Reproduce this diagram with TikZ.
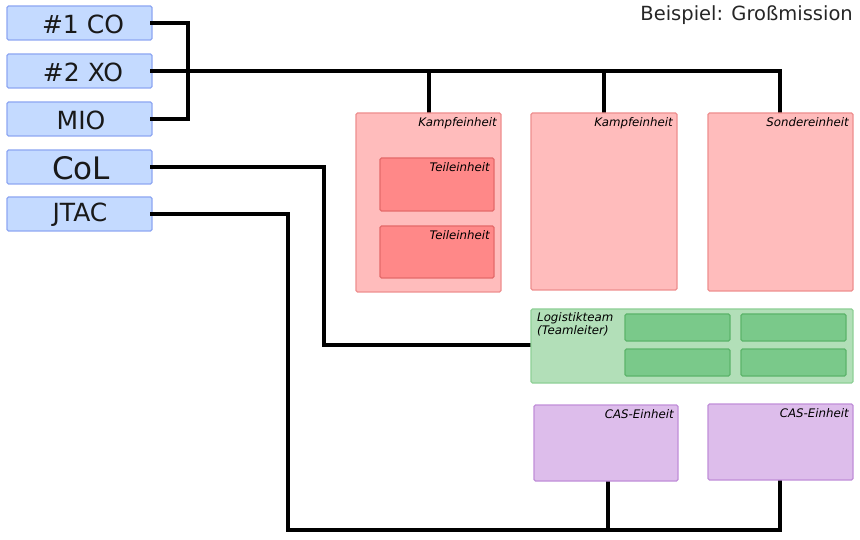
\documentclass[tikz,border=0pt]{standalone}
\usepackage{fontspec}
\setmainfont{DejaVu Sans}
\definecolor{bluefill}{HTML}{C4DAFF}
\definecolor{blueline}{HTML}{8DA6F2}
\definecolor{redfill}{HTML}{FFBCBC}
\definecolor{redline}{HTML}{EE8E8E}
\definecolor{red2fill}{HTML}{FF8888}
\definecolor{red2line}{HTML}{E46A6A}
\definecolor{grnfill}{HTML}{B2DFB8}
\definecolor{grnline}{HTML}{8ED096}
\definecolor{grn2fill}{HTML}{7AC98A}
\definecolor{grn2line}{HTML}{5CB46A}
\definecolor{purfill}{HTML}{DDBDEB}
\definecolor{purline}{HTML}{C08ED8}
\tikzset{
  rolebox/.style={draw=blueline, fill=bluefill, line width=1.3pt, rounded corners=1.5pt},
  unitbox/.style={draw=redline, fill=redfill, line width=1.3pt, rounded corners=1.5pt},
  subbox/.style={draw=red2line, fill=red2fill, line width=1.3pt, rounded corners=1.5pt},
  logbox/.style={draw=grnline, fill=grnfill, line width=1.3pt, rounded corners=1.5pt},
  log2box/.style={draw=grn2line, fill=grn2fill, line width=1.3pt, rounded corners=1.5pt},
  casbox/.style={draw=purline, fill=purfill, line width=1.3pt, rounded corners=1.5pt},
  wire/.style={line width=4.2pt, line cap=rect},
  lbl/.style={font=\fontsize{11.8}{13.5}\selectfont\itshape, anchor=north east, inner sep=0pt},
  big/.style={font=\fontsize{25}{28}\selectfont, inner sep=0pt, text=black!90},
}
\begin{document}
\begin{tikzpicture}[x=1pt,y=-1pt]
\useasboundingbox (0,0) rectangle (860,540);
% wires
\coordinate (j1) at (188,23);
\coordinate (j2) at (188,119);
\coordinate (x1) at (429,71);
\coordinate (x2) at (604,71);
\coordinate (x3) at (780,71);
\coordinate (c1) at (324,167);
\coordinate (c2) at (324,345);
\coordinate (t1) at (288,214);
\coordinate (t2) at (288,530);
\coordinate (t3) at (608,530);
\coordinate (t4) at (780,530);

% boxes
\path[rolebox] (7,6) rectangle (152,40);
\path[rolebox] (7,54) rectangle (152,88);
\path[rolebox] (7,102) rectangle (152,136);
\path[rolebox] (7,150) rectangle (152,184);
\path[rolebox] (7,197) rectangle (152,231);
\node[big] (co) at (83,24) {\#1 CO};
\node[big] (xo) at (83,72) {\#2 XO};
\node[big] (mio) at (81,120) {MIO};
\node[big, font=\fontsize{31}{34}\selectfont] (col) at (81,168) {CoL};
\node[big] (jtac) at (80,215) {JTAC};
\coordinate (coR) at (152,23);
\coordinate (xoR) at (152,71);
\coordinate (mioR) at (152,119);
\coordinate (colR) at (152,167);
\coordinate (jtacR) at (152,214);

\draw[wire] (coR) -- (j1) -- (j2) -- (mioR);
\draw[wire] (xoR) -- (x3) -- (780,113);
\draw[wire] (x1) -- (429,113);
\draw[wire] (x2) -- (604,113);
\draw[wire] (colR) -- (c1) -- (c2) -- (531,345);
\draw[wire] (jtacR) -- (t1) -- (t2) -- (t4) -- (780,480);
\draw[wire] (t3) -- (608,481);

\path[unitbox] (356,113) rectangle (501,292);
\node[lbl] (k1) at (497,117) {Kampfeinheit};
\path[subbox] (380,158) rectangle (494,211);
\node[lbl] (s1) at (490,162) {Teileinheit};
\path[subbox] (380,226) rectangle (494,278);
\node[lbl] (s2) at (490,230) {Teileinheit};

\path[unitbox] (531,113) rectangle (677,290);
\node[lbl] (k2) at (673,117) {Kampfeinheit};
\path[unitbox] (708,113) rectangle (853,291);
\node[lbl] (so) at (849,117) {Sondereinheit};

\path[logbox] (531,309) rectangle (853,383);
\node[lbl, anchor=north west, align=left] (lg) at (537,312) {Logistikteam\\(Teamleiter)};
\path[log2box] (625,314) rectangle (730,341);
\path[log2box] (741,314) rectangle (846,341);
\path[log2box] (625,349) rectangle (730,376);
\path[log2box] (741,349) rectangle (846,376);

\path[casbox] (534,405) rectangle (678,481);
\node[lbl] (cas1) at (674,409) {CAS-Einheit};
\path[casbox] (708,404) rectangle (853,480);
\node[lbl] (cas2) at (849,408) {CAS-Einheit};

\node[font=\fontsize{19.5}{22}\selectfont, anchor=north east, inner sep=0pt, text=black!85] (title) at (853,5) {Beispiel: Großmission};
\end{tikzpicture}
\end{document}
